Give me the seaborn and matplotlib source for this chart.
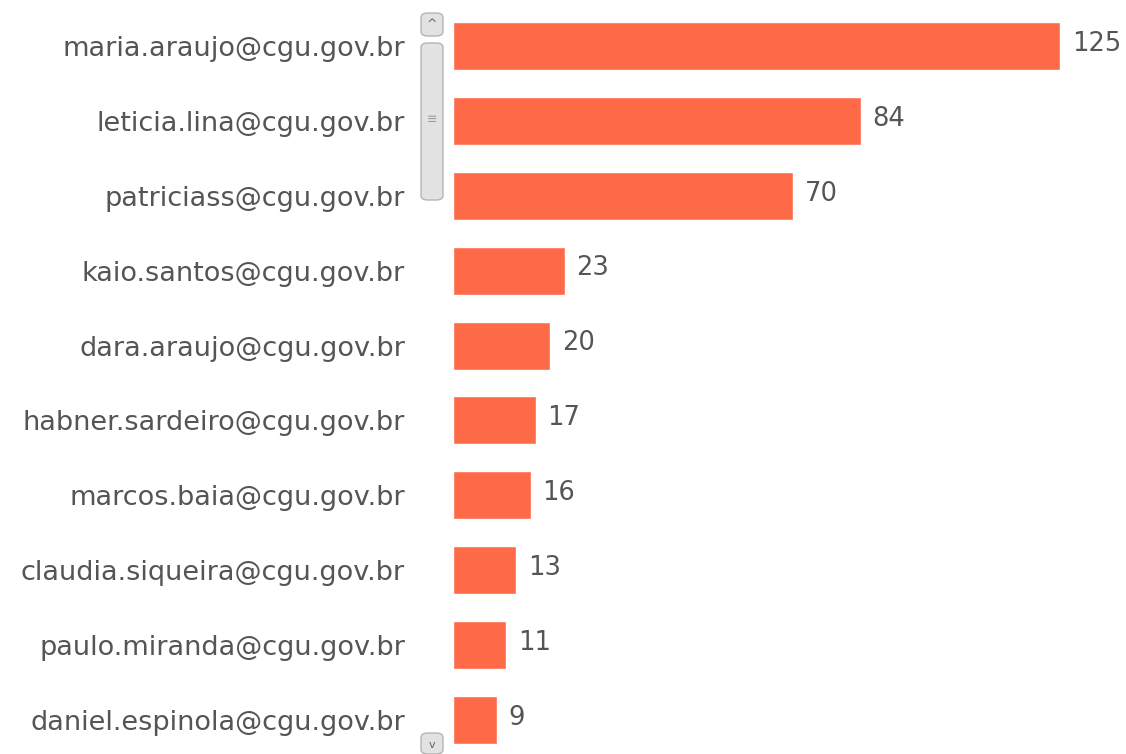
import pandas as pd
import matplotlib
matplotlib.use('Agg')
import matplotlib.pyplot as plt
import seaborn as sns
from matplotlib.patches import FancyBboxPatch


users = [
    'maria.araujo@cgu.gov.br',
    'leticia.lina@cgu.gov.br',
    'patriciass@cgu.gov.br',
    'kaio.santos@cgu.gov.br',
    'dara.araujo@cgu.gov.br',
    'habner.sardeiro@cgu.gov.br',
    'marcos.baia@cgu.gov.br',
    'claudia.siqueira@cgu.gov.br',
    'paulo.miranda@cgu.gov.br',
    'daniel.espinola@cgu.gov.br',
]
counts = [125, 84, 70, 23, 20, 17, 16, 13, 11, 9]

BAR_COLOR = '#FE6A47'
TEXT_COLOR = '#555555'

sns.set_style('white')
plt.rcParams['font.family'] = ['DejaVu Sans']

df = pd.DataFrame({'user': users, 'count': counts})

fig = plt.figure(figsize=(11.26, 7.54), dpi=100)
ax = fig.add_axes([0.4023, -0.0046, 0.5607, 0.9933])

sns.barplot(data=df, x='count', y='user', color=BAR_COLOR,
            saturation=1, width=0.64, ax=ax)

ax.set_xlim(0, 130)
ax.set_ylim(len(users) - 0.5, -0.5)
ax.set_xlabel('')
ax.set_ylabel('')
ax.set_xticks([])
ax.tick_params(axis='y', length=0, pad=34.5, labelsize=19.5,
               labelcolor=TEXT_COLOR)
sns.despine(ax=ax, left=True, bottom=True)

for i, v in enumerate(counts):
    ax.text(v + 2.4, i - 0.03, str(v), va='center', ha='left',
            fontsize=18.5, color=TEXT_COLOR)

# scrollbar widget next to the labels
def widget(x0, y0, x1, y1):
    w = (x1 - x0) / 1126
    h = (y1 - y0) / 754
    fig.patches.append(FancyBboxPatch(
        (x0 / 1126, 1 - y1 / 754), w, h,
        boxstyle='round,pad=0,rounding_size=0.006',
        transform=fig.transFigure, facecolor='#e2e2e2',
        edgecolor='#b5b5b5', linewidth=1.0))

widget(421, 13, 443, 36)
widget(421, 43, 443, 200)
widget(421, 733, 443, 754)
fig.text(432 / 1126, 1 - 25 / 754, '^', ha='center', va='center',
         fontsize=9, color='#666666')
fig.text(432 / 1126, 1 - 745 / 754, 'v', ha='center', va='center',
         fontsize=8, color='#666666')
fig.text(432 / 1126, 1 - 120 / 754, '≡', ha='center', va='center',
         fontsize=9, color='#999999')

fig.savefig('out.png', dpi=100)
